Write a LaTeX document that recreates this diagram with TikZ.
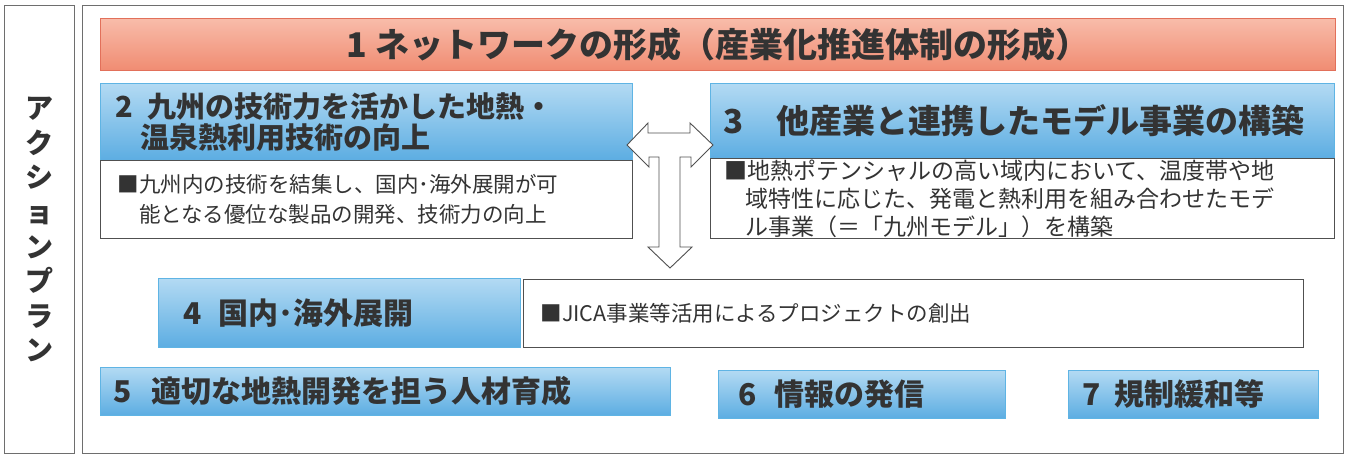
\documentclass[tikz,border=0pt]{standalone}
\usepackage{fontspec}
\newfontfamily\jp{Noto Sans CJK JP}
\definecolor{txt}{HTML}{333333}
\definecolor{bluetop}{HTML}{B3DAF3}
\definecolor{bluebot}{HTML}{5CADE2}
\definecolor{blueline}{HTML}{5FB4E4}
\definecolor{redtop}{HTML}{F8BCAA}
\definecolor{redbot}{HTML}{F08C72}
\definecolor{redline}{HTML}{E2705A}
\definecolor{frame}{HTML}{6E6E6E}
\definecolor{bodyline}{HTML}{505050}
\begin{document}
\begin{tikzpicture}[x=1pt,y=-1pt,
  framebox/.style={draw=frame, line width=1.4pt, fill=white, anchor=north west, inner sep=0pt},
  redbox/.style={anchor=north west, draw=redline, line width=0.8pt, top color=redtop, bottom color=redbot, inner sep=0pt, text=txt, font={\jp\bfseries\fontsize{34pt}{36pt}\selectfont}},
  hdr/.style={anchor=north west, draw=blueline, line width=0.8pt, top color=bluetop, bottom color=bluebot, inner ysep=0pt, align=left, text=txt},
  bodybox/.style={anchor=north west, draw=bodyline, line width=1pt, fill=white, inner ysep=0pt, align=left, text=txt},
  arrowshape/.style={draw=bodyline, line width=0.9pt, fill=white, line join=miter}
]
\useasboundingbox (0,0) rectangle (1348,455);
% outer frames
\node[framebox, minimum width=70pt, minimum height=448pt, align=center, text=txt,
  font={\jp\bfseries\fontsize{28pt}{34.6pt}\selectfont}] (side) at (4,5)
  {ア\\ク\\シ\\ョ\\ン\\プ\\ラ\\ン};
\node[framebox, minimum width=1261pt, minimum height=448pt] (main) at (82,5) {};
% 1
\node[redbox, minimum width=1235pt, minimum height=52pt] (n1) at (100,18)
  {1 ネットワークの形成（産業化推進体制の形成）};
% 2
\node[hdr, inner xsep=15pt, text width=502pt, minimum height=77pt,
  font={\jp\bfseries\fontsize{29pt}{31pt}\selectfont}] (h2) at (100,83)
  {2\hspace{0.5em}九州の技術力を活かした地熱・\\\hspace{0.86em}温泉熱利用技術の向上};
\node[bodybox, inner xsep=17pt, text width=498pt, minimum height=78pt,
  font={\jp\fontsize{21.5pt}{30pt}\selectfont}] (b2) at (100,160)
  {■九州内の技術を結集し、国内･海外展開が可\\\hspace{1em}能となる優位な製品の開発、技術力の向上};
% 3
\node[hdr, inner xsep=13pt, text width=598pt, minimum height=75pt,
  font={\jp\bfseries\fontsize{33pt}{35pt}\selectfont}] (h3) at (710,83)
  {3\hspace{1em}他産業と連携したモデル事業の構築};
\node[bodybox, inner xsep=14pt, text width=596pt, minimum height=80pt,
  font={\jp\fontsize{23pt}{28pt}\selectfont}] (b3) at (710,158)
  {■地熱ポテンシャルの高い域内において、温度帯や地\\\hspace{0.9em}域特性に応じた、発電と熱利用を組み合わせたモデ\\\hspace{0.9em}ル事業（＝「九州モデル」）を構築};
% 4
\node[hdr, inner xsep=25pt, text width=312pt, minimum height=69pt,
  font={\jp\bfseries\fontsize{30pt}{32pt}\selectfont}] (h4) at (158,278)
  {4\hspace{0.55em}国内･海外展開};
\node[bodybox, inner xsep=17pt, text width=746pt, minimum height=68pt,
  font={\jp\fontsize{21.5pt}{26pt}\selectfont}] (b4) at (523,279)
  {■JICA事業等活用によるプロジェクトの創出};
% 5 6 7
\node[hdr, inner xsep=13pt, text width=544pt, minimum height=48pt,
  font={\jp\bfseries\fontsize{30pt}{32pt}\selectfont}] (h5) at (100,367)
  {5\hspace{0.65em}適切な地熱開発を担う人材育成};
\node[hdr, inner xsep=20pt, text width=247pt, minimum height=48pt,
  font={\jp\bfseries\fontsize{30pt}{32pt}\selectfont}] (h6) at (718,370)
  {6\hspace{0.6em}情報の発信};
\node[hdr, inner xsep=14pt, text width=222pt, minimum height=48pt,
  font={\jp\bfseries\fontsize{30pt}{32pt}\selectfont}] (h7) at (1068,370)
  {7\hspace{0.47em}規制緩和等};
% arrows (combined outline)
\draw[arrowshape] (627,145) -- (648,123) -- (648,133) -- (690,133) -- (690,123)
  -- (713,145) -- (691,167) -- (691,157) -- (680,157) -- (680,247) -- (692,247)
  -- (670,268) -- (648,247) -- (659,247) -- (659,157) -- (649,157) -- (649,167) -- cycle;
\end{tikzpicture}
\end{document}
